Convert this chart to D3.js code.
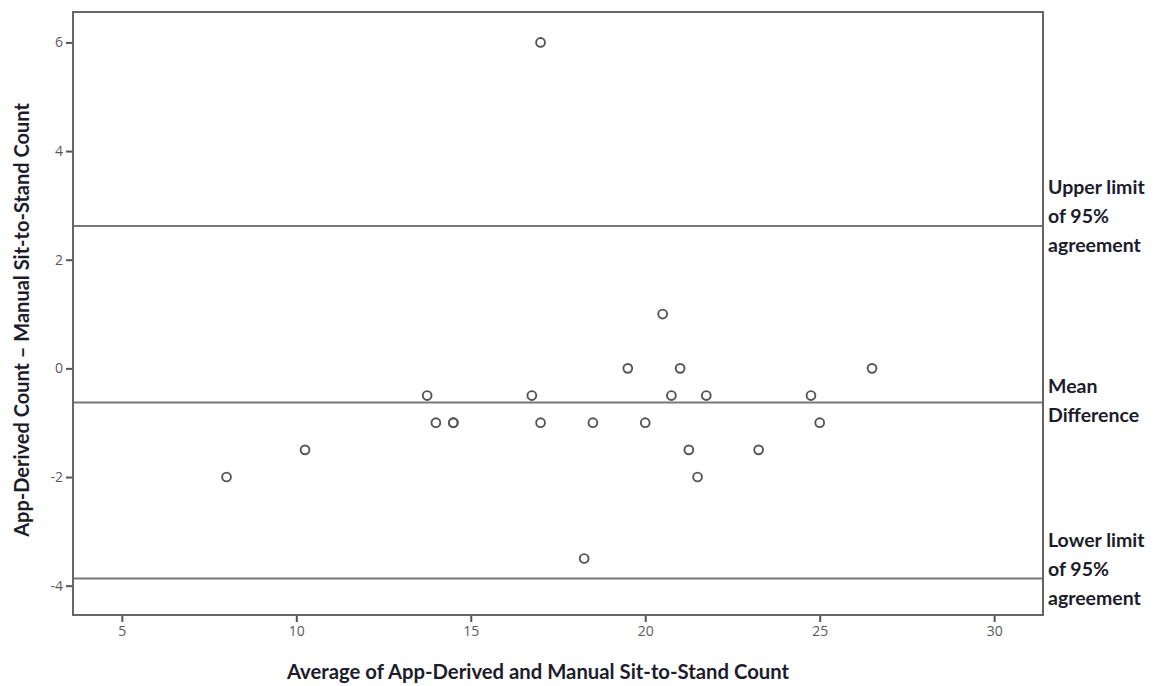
<!DOCTYPE html>
<html>
<head>
<meta charset="utf-8">
<script src="https://cdn.jsdelivr.net/npm/d3@7"></script>
<style>
  body { margin: 0; background: #fff; }
  svg { display: block; }
  .tick text { font-family: "Open Sans", Arial, sans-serif; fill: #5a5a5a; }
</style>
</head>
<body>
<svg id="chart"></svg>
<script>
// Bland-Altman: average vs difference
const average = [8, 10.25, 13.75, 14, 14.5, 14.5, 16.75, 17, 17, 18.25, 18.5, 19.5, 20, 20.5, 20.75, 21, 21.25, 21.5, 21.75, 23.25, 24.75, 25, 26.5];
const difference = [-2, -1.5, -0.5, -1, -1, -1, -0.5, -1, 6, -3.5, -1, 0, -1, 1, -0.5, 0, -1.5, -2, -0.5, -1.5, -0.5, -1, 0];

const xTicks = [5, 10, 15, 20, 25, 30];
const yTicks = [-4, -2, 0, 2, 4, 6];

const refValues = [2.62, -0.63, -3.87];
const refLabels = [
  ["Upper limit", "of 95%", "agreement"],
  ["Mean", "Difference"],
  ["Lower limit", "of 95%", "agreement"]
];

const width = 1155, height = 686;
const margin = { top: 12, right: 112, bottom: 71, left: 73 };

const svg = d3.select("#chart").attr("width", width).attr("height", height);

const x = d3.scaleLinear().domain([3.6, 31.4]).range([margin.left, width - margin.right]);
const y = d3.scaleLinear().domain([-4.54, 6.56]).range([height - margin.bottom, margin.top]);

// axes
svg.append("g")
  .attr("transform", `translate(0,${height - margin.bottom})`)
  .call(d3.axisBottom(x).tickValues(xTicks).tickSize(7).tickPadding(4).tickFormat(d => String(d)))
  .call(g => g.select(".domain").remove())
  .call(g => g.selectAll(".tick line").attr("stroke", "#555").attr("stroke-width", 2))
  .call(g => g.selectAll(".tick text").style("font-size", "14px"));

svg.append("g")
  .attr("transform", `translate(${margin.left},0)`)
  .call(d3.axisLeft(y).tickValues(yTicks).tickSize(7).tickPadding(3).tickFormat(d => String(d)))
  .call(g => g.select(".domain").remove())
  .call(g => g.selectAll(".tick line").attr("stroke", "#555").attr("stroke-width", 2))
  .call(g => g.selectAll(".tick text").style("font-size", "14px"));

// reference lines
svg.selectAll(".ref")
  .data(refValues)
  .enter().append("line")
  .attr("class", "ref")
  .attr("x1", x.range()[0]).attr("x2", x.range()[1])
  .attr("y1", d => y(d)).attr("y2", d => y(d))
  .attr("stroke", "#777").attr("stroke-width", 2);

// frame
svg.append("rect")
  .attr("x", x.range()[0]).attr("y", y.range()[1])
  .attr("width", x.range()[1] - x.range()[0])
  .attr("height", y.range()[0] - y.range()[1])
  .attr("fill", "none").attr("stroke", "#666").attr("stroke-width", 2);

// points
svg.selectAll(".pt")
  .data(average.map((a, i) => [a, difference[i]]))
  .enter().append("circle")
  .attr("class", "pt")
  .attr("cx", d => x(d[0])).attr("cy", d => y(d[1]))
  .attr("r", 4.4)
  .attr("fill", "none").attr("stroke", "#555").attr("stroke-width", 1.9);

// right-hand labels
const labelOffsets = [[-32, -3, 26], [-10, 19], [-32, -3, 26]];
refLabels.forEach((lines, k) => {
  const t = svg.append("text")
    .style("font-family", "Lato, 'Open Sans', sans-serif")
    .style("font-weight", "bold")
    .style("font-size", "19.5px")
    .attr("fill", "#1c1c2a");
  lines.forEach((s, j) => {
    t.append("tspan")
      .attr("x", x.range()[1] + 5)
      .attr("y", y(refValues[k]) + labelOffsets[k][j])
      .text(s);
  });
});

// axis titles
svg.append("text")
  .attr("x", 538)
  .attr("y", 679)
  .attr("text-anchor", "middle")
  .style("font-family", "Lato, 'Open Sans', sans-serif")
  .style("font-weight", "bold")
  .style("font-size", "20.3px")
  .attr("fill", "#1c1c2a")
  .text("Average of App-Derived and Manual Sit-to-Stand Count");

svg.append("text")
  .attr("transform", `translate(29,320) rotate(-90)`)
  .attr("text-anchor", "middle")
  .style("font-family", "Lato, 'Open Sans', sans-serif")
  .style("font-weight", "bold")
  .style("font-size", "20px")
  .attr("fill", "#1c1c2a")
  .text("App-Derived Count – Manual Sit-to-Stand Count");
</script>
</body>
</html>
